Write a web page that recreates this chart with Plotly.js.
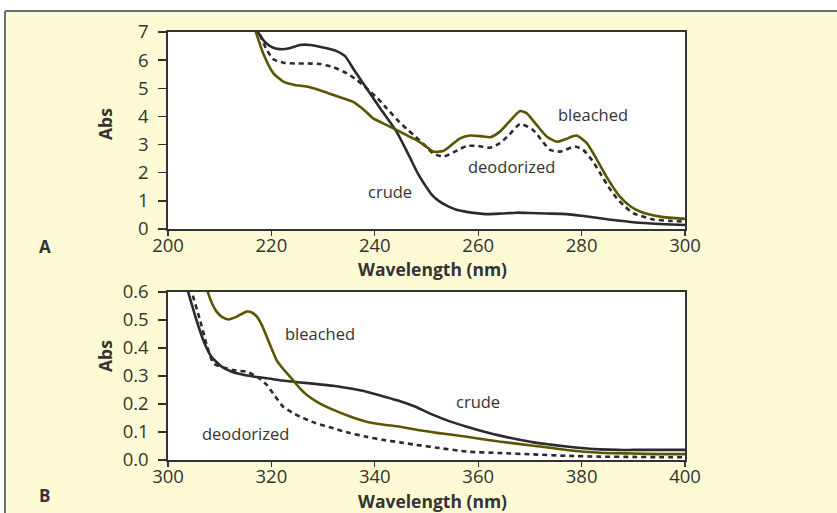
<!DOCTYPE html>
<html>
<head>
<meta charset="utf-8">
<script src="https://cdn.plot.ly/plotly-3.0.1.min.js"></script>
<style>
  html, body { margin: 0; padding: 0; background: #ffffff; }
  #chart { width: 837px; height: 513px; }
</style>
</head>
<body>
<div id="chart"></div>
<script>
// Panel A: 200-300 nm
const wlA_crude = [216, 217.4, 219, 220.5, 221.7, 223.5, 225.5, 227.5, 230, 232.5, 234.2, 236, 238.4, 241, 244.2, 246.5, 248.4, 250, 251, 252.5, 254, 255.8, 258, 261.6, 264.5, 267.4, 270, 273, 277.1, 280, 283.6, 287, 290, 295, 300];
const absA_crude = [7.6, 7.0, 6.6, 6.43, 6.39, 6.42, 6.54, 6.54, 6.45, 6.33, 6.15, 5.65, 5.0, 4.3, 3.46, 2.65, 1.95, 1.48, 1.22, 0.98, 0.82, 0.68, 0.6, 0.53, 0.55, 0.58, 0.57, 0.55, 0.53, 0.47, 0.38, 0.3, 0.24, 0.18, 0.14];

const wlA_deod = [216, 217.6, 219, 220.4, 222.3, 225, 227, 229.4, 232, 234.6, 236.5, 238.4, 240.5, 242.3, 244.5, 246.2, 247.5, 249.5, 251.3, 253.2, 255.5, 257.8, 260, 262.3, 264.2, 266, 268.1, 270.6, 272.5, 273.9, 275.8, 278.7, 280.3, 282, 283.6, 285.2, 286.8, 288.5, 290, 293.9, 297, 300];
const absA_deod = [7.8, 7.0, 6.4, 6.03, 5.91, 5.88, 5.88, 5.86, 5.75, 5.53, 5.3, 5.0, 4.65, 4.29, 3.85, 3.55, 3.34, 3.0, 2.69, 2.57, 2.75, 2.95, 2.95, 2.89, 3.05, 3.35, 3.73, 3.52, 3.1, 2.81, 2.75, 2.93, 2.81, 2.45, 1.98, 1.5, 1.09, 0.78, 0.56, 0.34, 0.29, 0.26];

const wlA_bleach = [216, 217, 218.5, 220.4, 222.3, 224.5, 226.8, 229.5, 232, 234, 235.8, 237.8, 239.7, 242, 244.2, 246.5, 248.1, 250, 251.3, 253.2, 254.8, 256.5, 258.4, 260.5, 262.3, 264.2, 266.2, 268.1, 269.4, 271.3, 273.3, 275.2, 277, 279, 281, 283, 284.8, 287.4, 289.5, 291.3, 295.2, 300];
const absA_bleach = [7.6, 7.0, 6.2, 5.53, 5.24, 5.12, 5.06, 4.92, 4.76, 4.64, 4.52, 4.25, 3.93, 3.72, 3.52, 3.3, 3.16, 2.92, 2.75, 2.77, 2.98, 3.22, 3.32, 3.3, 3.26, 3.46, 3.85, 4.19, 4.11, 3.7, 3.28, 3.10, 3.2, 3.32, 3.05, 2.45, 1.86, 1.15, 0.8, 0.62, 0.44, 0.36];

// Panel B: 300-400 nm
const wlB_crude = [302.5, 303.9, 305.5, 307, 308.4, 310.4, 312, 313.9, 316.5, 319.1, 322, 325.5, 328.5, 332, 335, 338.4, 341.5, 344.9, 347.5, 351.3, 354.5, 357.8, 361, 364.2, 367.5, 370.7, 374, 377.1, 380.5, 383.6, 387, 390, 395, 400];
const absB_crude = [0.68, 0.6, 0.5, 0.42, 0.369, 0.333, 0.318, 0.307, 0.298, 0.292, 0.284, 0.277, 0.272, 0.265, 0.256, 0.244, 0.228, 0.21, 0.193, 0.161, 0.138, 0.119, 0.102, 0.087, 0.074, 0.063, 0.055, 0.048, 0.042, 0.038, 0.036, 0.036, 0.036, 0.036];

const wlB_deod = [303.5, 304.6, 306.2, 307.5, 308.8, 310.5, 312.6, 315.2, 317.2, 319.1, 320.7, 322.3, 324, 325.5, 328.5, 332, 335, 338.4, 341.5, 344.9, 348, 352, 357.8, 364, 370.7, 377, 383.6, 390, 395, 400];
const absB_deod = [0.68, 0.6, 0.5, 0.41, 0.345, 0.332, 0.321, 0.315, 0.298, 0.268, 0.228, 0.19, 0.17, 0.155, 0.132, 0.113, 0.097, 0.083, 0.072, 0.063, 0.054, 0.044, 0.030, 0.025, 0.020, 0.015, 0.012, 0.011, 0.01, 0.01];

const wlB_bleach = [306.8, 307.7, 308.5, 309.4, 310.5, 311.7, 313.3, 315.2, 316.3, 317.2, 318.2, 319.1, 320, 321, 322.3, 323.6, 325.5, 327, 328.8, 332, 335, 338.4, 341.5, 344.9, 348.7, 352, 357.8, 364, 370.7, 377.1, 383.6, 390, 395, 400];
const absB_bleach = [0.68, 0.6, 0.56, 0.53, 0.51, 0.502, 0.512, 0.53, 0.526, 0.512, 0.48, 0.44, 0.4, 0.357, 0.325, 0.298, 0.256, 0.23, 0.208, 0.179, 0.157, 0.137, 0.127, 0.119, 0.106, 0.097, 0.083, 0.066, 0.051, 0.036, 0.026, 0.023, 0.021, 0.021];

const sampleNames = ['crude', 'deodorized', 'bleached'];
const xTitle = 'Wavelength (nm)';
const yTitle = 'Abs';

const W = 837, H = 513;
const px = v => v / W;
const py = v => 1 - v / H;

const FONT = 'Open Sans, Noto Sans, sans-serif';
const INK = '#2b2b2b';
const OLIVE = '#5a5500';

const styles = {
  crude: { color: INK, width: 2.6 },
  deodorized: { color: INK, width: 2.6, dash: '5px,4px' },
  bleached: { color: OLIVE, width: 2.6 }
};

function curve(x, y, name, xa, ya) {
  return {
    type: 'scatter', mode: 'lines', x: x, y: y, name: name,
    xaxis: xa, yaxis: ya, showlegend: false, hoverinfo: 'skip',
    line: Object.assign({ shape: 'spline', smoothing: 0.6 }, styles[name])
  };
}

const traces = [
  curve(wlA_crude, absA_crude, 'crude', 'x', 'y'),
  curve(wlA_deod, absA_deod, 'deodorized', 'x', 'y'),
  curve(wlA_bleach, absA_bleach, 'bleached', 'x', 'y'),
  curve(wlB_crude, absB_crude, 'crude', 'x2', 'y2'),
  curve(wlB_deod, absB_deod, 'deodorized', 'x2', 'y2'),
  curve(wlB_bleach, absB_bleach, 'bleached', 'x2', 'y2')
];

const axisBase = {
  showline: true, linecolor: '#333', linewidth: 1.6, mirror: true,
  showgrid: false, zeroline: false, ticks: 'outside', tickcolor: '#333',
  tickwidth: 1.4, tickfont: { family: FONT, size: 18.5, color: '#333' },
  fixedrange: true
};

const titleFont = { family: FONT, size: 17.5, color: '#333', weight: 'bold' };

function xAxis(range, anchor) {
  return Object.assign({}, axisBase, {
    domain: [px(168), px(685)], range: range, anchor: anchor,
    tick0: range[0], dtick: 20, ticklen: 5, ticklabelstandoff: -6
  });
}

function yAxis(domain, range, dtick, fmt, anchor) {
  return Object.assign({}, axisBase, {
    domain: domain, range: range, anchor: anchor,
    tick0: 0, dtick: dtick, tickformat: fmt, ticklen: 8, ticklabelstandoff: 6
  });
}

function label(text, x, y, xa, ya) {
  return { text: text, x: x, y: y, xref: xa, yref: ya, showarrow: false,
    xanchor: 'center', yanchor: 'middle',
    font: { family: FONT, size: 16.5, color: '#333' } };
}

// bold text placed in page pixels (axis titles and panel tags)
function pageText(text, x, y, angle, size) {
  return { text: text, x: px(x), y: py(y), xref: 'paper', yref: 'paper', showarrow: false,
    xanchor: 'center', yanchor: 'middle', textangle: angle,
    font: { family: FONT, size: size, color: '#333', weight: 'bold' } };
}

const layout = {
  width: W, height: H,
  margin: { l: 0, r: 0, t: 0, b: 0 },
  paper_bgcolor: '#fffad6',
  plot_bgcolor: '#ffffff',
  xaxis: xAxis([200, 300], 'y'),
  yaxis: yAxis([py(229), py(32)], [0, 7], 1, 'd', 'x'),
  xaxis2: xAxis([300, 400], 'y2'),
  yaxis2: yAxis([py(460), py(292)], [0, 0.6], 0.1, '.1f', 'x2'),
  shapes: [
    // white strip above and left of the framed panel
    { type: 'rect', xref: 'paper', yref: 'paper', x0: 0, x1: 1, y0: py(11), y1: 1,
      fillcolor: '#ffffff', line: { width: 0 }, layer: 'below' },
    { type: 'rect', xref: 'paper', yref: 'paper', x0: 0, x1: px(5), y0: 0, y1: 1,
      fillcolor: '#ffffff', line: { width: 0 }, layer: 'below' },
    // frame edges
    { type: 'line', xref: 'paper', yref: 'paper', x0: px(5), x1: 1, y0: py(11), y1: py(11),
      line: { color: '#6f6f6f', width: 2 } },
    { type: 'line', xref: 'paper', yref: 'paper', x0: px(5), x1: px(5), y0: py(11), y1: 0,
      line: { color: '#6f6f6f', width: 2 } }
  ],
  annotations: [
    label(sampleNames[0], 242.9, 1.33, 'x', 'y'),
    label(sampleNames[1], 266.5, 2.21, 'x', 'y'),
    label(sampleNames[2], 282.3, 4.08, 'x', 'y'),
    label(sampleNames[2], 329.4, 0.452, 'x2', 'y2'),
    label(sampleNames[1], 315.0, 0.095, 'x2', 'y2'),
    label(sampleNames[0], 359.9, 0.208, 'x2', 'y2'),
    pageText(xTitle, 432, 269, 0, 17.5),
    pageText(xTitle, 432, 501, 0, 17.5),
    pageText(yTitle, 105, 124, -90, 17.5),
    pageText(yTitle, 105, 356, -90, 17.5),
    pageText('A', 45, 246.5, 0, 17),
    pageText('B', 44, 495, 0, 17)
  ]
};

Plotly.newPlot('chart', traces, layout, { displayModeBar: false, staticPlot: true });
</script>
</body>
</html>
